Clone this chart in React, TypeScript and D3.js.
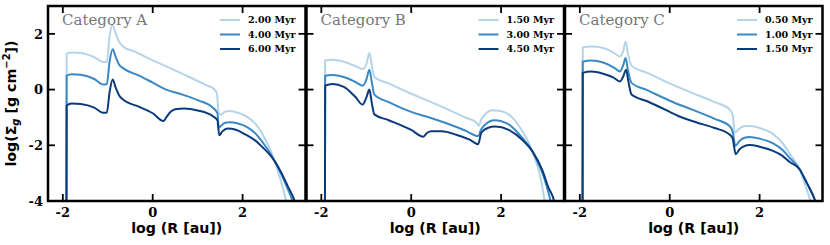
import React from 'react';
import * as d3 from 'd3';

// x tick / y tick values
const xTicks = [-2, 0, 2];
const yTicks = [-4, -2, 0, 2];

const titles = ['Category A', 'Category B', 'Category C'];
const legendLabels = [
  ['2.00 Myr', '4.00 Myr', '6.00 Myr'],
  ['1.50 Myr', '3.00 Myr', '4.50 Myr'],
  ['0.50 Myr', '1.00 Myr', '1.50 Myr'],
];

const colors = ['#b5d4e9', '#3a89c4', '#0c3b7c'];

// panel A
const aLight: [number, number][] = [[-1.92,-5],[-1.915,1.29],[-1.8,1.33],[-1.6,1.31],[-1.3,1.16],[-1.1,0.99],[-1.02,1.0],[-0.96,1.9],[-0.9,2.32],[-0.84,2.1],[-0.76,1.75],[-0.66,1.55],[-0.4,1.36],[0,1.05],[0.3,0.83],[0.8,0.46],[1.2,0.15],[1.36,0.02],[1.43,-0.15],[1.47,-0.85],[1.52,-0.9],[1.6,-0.8],[1.7,-0.77],[1.9,-0.83],[2.1,-0.98],[2.3,-1.25],[2.45,-1.62],[2.6,-2.1],[2.71,-2.56],[2.8,-3.0],[2.9,-3.55],[2.97,-4.0],[3.02,-4.3]];
const aMed: [number, number][] = [[-1.92,-5],[-1.915,0.5],[-1.8,0.55],[-1.6,0.53],[-1.3,0.38],[-1.1,0.18],[-1.02,0.2],[-0.96,1.0],[-0.89,1.45],[-0.83,1.2],[-0.75,0.9],[-0.66,0.77],[-0.3,0.5],[0,0.25],[0.3,0.0],[0.6,-0.15],[1.0,-0.38],[1.34,-0.65],[1.44,-0.85],[1.47,-1.37],[1.52,-1.3],[1.6,-1.2],[1.7,-1.17],[1.9,-1.22],[2.1,-1.35],[2.3,-1.6],[2.45,-1.9],[2.6,-2.25],[2.71,-2.56],[2.85,-3.0],[3.0,-3.55],[3.11,-4.0],[3.16,-4.3]];
const aDark: [number, number][] = [[-1.92,-5],[-1.915,-0.57],[-1.8,-0.5],[-1.6,-0.52],[-1.3,-0.65],[-1.1,-0.83],[-1.02,-0.82],[-0.96,-0.1],[-0.89,0.36],[-0.83,0.1],[-0.75,-0.2],[-0.66,-0.36],[-0.3,-0.62],[0,-0.85],[0.24,-1.13],[0.3,-1.0],[0.4,-0.8],[0.5,-0.71],[0.7,-0.68],[1.0,-0.75],[1.34,-0.96],[1.44,-1.1],[1.48,-1.64],[1.55,-1.5],[1.67,-1.4],[1.85,-1.44],[2.05,-1.6],[2.3,-1.85],[2.45,-2.08],[2.6,-2.33],[2.71,-2.56],[2.85,-2.95],[3.0,-3.45],[3.16,-4.0],[3.2,-4.2]];

// panel B
const bLight: [number, number][] = [[-1.92,-5],[-1.915,1.04],[-1.75,1.07],[-1.5,1.0],[-1.25,0.85],[-1.08,0.74],[-1.0,0.9],[-0.93,1.31],[-0.88,0.9],[-0.82,0.45],[-0.5,0.22],[0,-0.15],[0.3,-0.35],[0.8,-0.7],[1.2,-1.0],[1.45,-1.18],[1.5,-1.3],[1.55,-1.1],[1.65,-0.88],[1.8,-0.74],[1.95,-0.76],[2.17,-0.89],[2.3,-1.1],[2.47,-1.49],[2.6,-1.85],[2.69,-2.2],[2.8,-2.7],[2.88,-3.2],[2.97,-4.0],[3.0,-4.3]];
const bMed: [number, number][] = [[-1.92,-5],[-1.915,0.5],[-1.75,0.52],[-1.5,0.45],[-1.25,0.28],[-1.08,0.14],[-1.0,0.35],[-0.93,0.71],[-0.88,0.3],[-0.82,-0.18],[-0.5,-0.45],[0,-0.8],[0.3,-0.95],[0.8,-1.22],[1.2,-1.47],[1.49,-1.67],[1.55,-1.45],[1.65,-1.25],[1.85,-1.1],[2.17,-1.25],[2.47,-1.73],[2.69,-2.2],[2.8,-2.55],[2.92,-3.0],[3.02,-3.5],[3.1,-4.0],[3.14,-4.3]];
const bDark: [number, number][] = [[-1.92,-5],[-1.915,0.14],[-1.75,0.2],[-1.5,0.1],[-1.25,-0.25],[-1.08,-0.54],[-1.0,-0.3],[-0.93,0.0],[-0.88,-0.45],[-0.82,-0.89],[-0.5,-1.1],[0,-1.45],[0.27,-1.69],[0.35,-1.56],[0.45,-1.5],[0.68,-1.5],[1.0,-1.62],[1.3,-1.8],[1.49,-1.96],[1.56,-1.55],[1.7,-1.38],[1.87,-1.33],[2.17,-1.45],[2.47,-1.8],[2.69,-2.2],[2.92,-2.9],[3.05,-3.5],[3.18,-4.0],[3.22,-4.3]];

// panel C
const cLight: [number, number][] = [[-1.94,-5],[-1.935,1.51],[-1.74,1.55],[-1.5,1.5],[-1.25,1.33],[-1.11,1.19],[-1.04,1.35],[-0.98,1.73],[-0.93,1.3],[-0.85,0.86],[-0.5,0.6],[0,0.22],[0.5,-0.12],[1.0,-0.45],[1.33,-0.71],[1.4,-0.9],[1.45,-1.55],[1.55,-1.4],[1.65,-1.32],[1.78,-1.31],[2.0,-1.38],[2.3,-1.6],[2.5,-1.9],[2.67,-2.3],[2.8,-2.6],[2.89,-2.86],[3.0,-3.35],[3.13,-4.0],[3.18,-4.3]];
const cMed: [number, number][] = [[-1.94,-5],[-1.935,1.0],[-1.74,1.04],[-1.5,0.98],[-1.25,0.8],[-1.11,0.65],[-1.04,0.85],[-0.98,1.13],[-0.93,0.7],[-0.85,0.24],[-0.5,-0.02],[0,-0.4],[0.5,-0.72],[1.0,-1.05],[1.33,-1.31],[1.4,-1.5],[1.46,-2.02],[1.55,-1.85],[1.65,-1.74],[1.78,-1.7],[2.0,-1.76],[2.3,-1.93],[2.5,-2.15],[2.67,-2.45],[2.89,-2.86],[3.05,-3.35],[3.24,-4.0],[3.3,-4.3]];
const cDark: [number, number][] = [[-1.94,-5],[-1.935,0.6],[-1.74,0.65],[-1.5,0.58],[-1.25,0.43],[-1.11,0.29],[-1.04,0.45],[-0.97,0.71],[-0.92,0.3],[-0.85,-0.18],[-0.5,-0.42],[0,-0.8],[0.19,-0.95],[0.6,-1.18],[1.0,-1.38],[1.33,-1.61],[1.4,-1.75],[1.47,-2.32],[1.55,-2.15],[1.65,-2.04],[1.78,-1.99],[2.0,-2.05],[2.3,-2.2],[2.5,-2.37],[2.67,-2.6],[2.89,-2.86],[3.05,-3.35],[3.24,-4.0],[3.3,-4.3]];

const seriesByPanel = [
  [aLight, aMed, aDark],
  [bLight, bMed, bDark],
  [cLight, cMed, cDark],
];

const W = 830, H = 245;
const panelLefts = [48, 306.5, 565];
const pw = 257.5;
const top = 6, bottom = 201;

const serif = '"DejaVu Serif", serif';
const sans = '"DejaVu Sans", sans-serif';

const fmt = (t: number) => (t < 0 ? '-' + Math.abs(t) : String(t));

const Panel = ({ i }: { i: number }) => {
  const left = panelLefts[i];
  const x = d3.scaleLinear().domain([-2.33, 3.4]).range([left, left + pw]);
  const y = d3.scaleLinear().domain([-4, 3]).range([bottom, top]);
  const line = d3.line<[number, number]>()
    .x(d => x(d[0]))
    .y(d => y(d[1]))
    .curve(d3.curveMonotoneX);
  const tl = 7;
  return (
    <g>
      <defs>
        <clipPath id={`clip${i}`}>
          <rect x={left} y={top} width={pw} height={bottom - top} />
        </clipPath>
      </defs>
      <g clipPath={`url(#clip${i})`}>
        {seriesByPanel[i].map((s, k) => (
          <path key={k} d={line(s) || ''} fill="none" stroke={colors[k]} strokeWidth={2} strokeLinejoin="round" />
        ))}
      </g>
      {xTicks.map(t => (
        <g key={'x' + t}>
          <line x1={x(t)} x2={x(t)} y1={bottom} y2={bottom - tl} stroke="#000" strokeWidth={1.8} />
          <line x1={x(t)} x2={x(t)} y1={top} y2={top + tl} stroke="#000" strokeWidth={1.8} />
          <text x={x(t)} y={216.5} textAnchor="middle" fontFamily={serif} fontWeight="bold" fontSize={13}>
            {fmt(t)}
          </text>
        </g>
      ))}
      {yTicks.map(t => (
        <g key={'y' + t}>
          <line x1={left} x2={left + tl} y1={y(t)} y2={y(t)} stroke="#000" strokeWidth={1.8} />
          <line x1={left + pw} x2={left + pw - tl} y1={y(t)} y2={y(t)} stroke="#000" strokeWidth={1.8} />
          {i === 0 && (
            <text x={43} y={y(t)} dy="0.36em" textAnchor="end" fontFamily={serif} fontWeight="bold" fontSize={13}>
              {fmt(t)}
            </text>
          )}
        </g>
      ))}
      <rect x={left} y={top} width={pw} height={bottom - top} fill="none" stroke="#000" strokeWidth={2.5} />
      <text x={left + 14} y={25} fontFamily={serif} fontSize={15} fill="#777">{titles[i]}</text>
      {legendLabels[i].map((lab, k) => (
        <g key={lab}>
          <line x1={left + 172} x2={left + 192} y1={20 + k * 14.5} y2={20 + k * 14.5} stroke={colors[k]} strokeWidth={2} />
          <text x={left + 200} y={20 + k * 14.5} dy="0.35em" fontFamily={serif} fontWeight="bold" fontSize={9.5}>{lab}</text>
        </g>
      ))}
      <text x={(left + left + pw) / 2} y={233} textAnchor="middle" fontFamily={sans} fontWeight="bold" fontSize={14.2}>log (R [au])</text>
    </g>
  );
};

export default function App() {
  return (
    <svg width={W} height={H} style={{ position: 'absolute', left: 0, top: 0, background: '#fff' }}>
      {[0, 1, 2].map(i => <Panel key={i} i={i} />)}
      <text transform={`translate(16,${(top + bottom) / 2}) rotate(-90)`} textAnchor="middle" fontFamily={sans} fontWeight="bold" fontSize={14.2}>
        log(Σ<tspan fontStyle="italic" fontSize={10} dy={3}>g</tspan>
        <tspan dy={-3}> [g cm</tspan>
        <tspan fontSize={10} dy={-6}>−2</tspan>
        <tspan dy={6}>])</tspan>
      </text>
    </svg>
  );
}
